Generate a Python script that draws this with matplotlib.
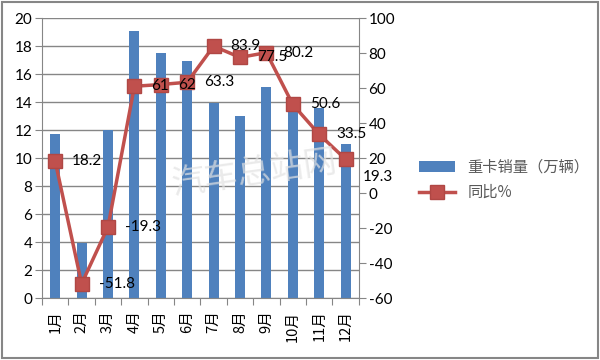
import numpy as np
import matplotlib.pyplot as plt
from matplotlib.lines import Line2D
from matplotlib.patches import Patch

plt.rcParams['font.family'] = ['Lato', 'Noto Sans CJK SC', 'DejaVu Sans']
plt.rcParams['axes.unicode_minus'] = False

# data
months = ['1月', '2月', '3月', '4月', '5月', '6月', '7月', '8月', '9月', '10月', '11月', '12月']
sales = [11.7, 3.9, 12.0, 19.1, 17.5, 16.9, 13.9, 13.0, 15.1, 13.8, 13.6, 11.0]
growth = [18.2, -51.8, -19.3, 61, 62, 63.3, 83.9, 77.5, 80.2, 50.6, 33.5, 19.3]
growth_labels = ['18.2', '-51.8', '-19.3', '61', '62', '63.3', '83.9', '77.5', '80.2', '50.6', '33.5', '19.3']

bar_color = '#4F81BD'
line_color = '#C0504D'
axis_gray = '#868686'

fig = plt.figure(figsize=(6, 3.6), dpi=100)
ax = fig.add_axes([0.07, 0.172, 0.528, 0.778])
x = np.arange(len(months))

ax.bar(x, sales, width=0.38, color=bar_color, zorder=2)
ax.set_xlim(-0.5, len(months) - 0.5)
ax.set_ylim(0, 20)
ax.set_yticks(np.arange(0, 21, 2))
ax.yaxis.grid(True, color=axis_gray, linewidth=1)
ax.set_axisbelow(True)
ax.spines['top'].set_visible(False)
ax.spines['right'].set_visible(False)
ax.spines['left'].set_color(axis_gray)
ax.spines['bottom'].set_color(axis_gray)

# category boundary ticks on x axis, labels centred on bars
ax.set_xticks(np.arange(-0.5, len(months), 1))
ax.set_xticklabels([])
ax.tick_params(axis='x', length=5, color=axis_gray, direction='out')
ax.set_xticks(x, minor=True)
ax.set_xticklabels(months, minor=True, rotation=90, fontsize=10.5,
                   family=['Noto Sans CJK SC', 'DejaVu Sans'])
ax.tick_params(axis='x', which='minor', length=0, pad=9)
ax.tick_params(axis='y', length=5, color=axis_gray, labelsize=11, pad=2)

ax2 = ax.twinx()
ax2.plot(x, growth, color=line_color, linewidth=2.5, marker='s', markersize=10,
         markerfacecolor=line_color, markeredgecolor='#B04744', zorder=3)
ax2.set_ylim(-60, 100)
ax2.set_yticks(np.arange(-60, 101, 20))
ax2.tick_params(axis='y', length=5, color=axis_gray, labelsize=11, pad=2)
for s in ['top', 'left', 'bottom']:
    ax2.spines[s].set_visible(False)
ax2.spines['right'].set_color(axis_gray)

for i, (xi, yi, lab) in enumerate(zip(x, growth, growth_labels)):
    dy = -18 if i == len(growth) - 1 else 0
    ax2.annotate(lab, (xi, yi), xytext=(17, dy), textcoords='offset pixels',
                 ha='left', va='center', fontsize=11, color='black', zorder=5)

# watermark
fig.text(0.425, 0.52, '汽车总站网', fontsize=24, color='#e2e2e2', rotation=8,
         ha='center', va='center', family=['Noto Sans CJK SC'], alpha=0.7, zorder=10)

handles = [Patch(facecolor=bar_color, edgecolor='none'),
           Line2D([0], [0], color=line_color, linewidth=2.5, marker='s', markersize=10,
                  markerfacecolor=line_color, markeredgecolor='#B04744')]
leg = fig.legend(handles, ['重卡销量（万辆）', '同比%'], loc='upper left',
                 bbox_to_anchor=(0.675, 0.597), frameon=False,
                 handlelength=2.4, handleheight=0.7, labelspacing=0.55,
                 prop={'family': ['Noto Sans CJK SC', 'DejaVu Sans'], 'size': 11})
for t in leg.get_texts():
    t.set_color('#595959')

# outer chart border
fig.patches.append(plt.Rectangle((0.004, 0.006), 0.992, 0.988, transform=fig.transFigure,
                                 fill=False, edgecolor=axis_gray, linewidth=1.5))

fig.savefig('out.png', dpi=100)
